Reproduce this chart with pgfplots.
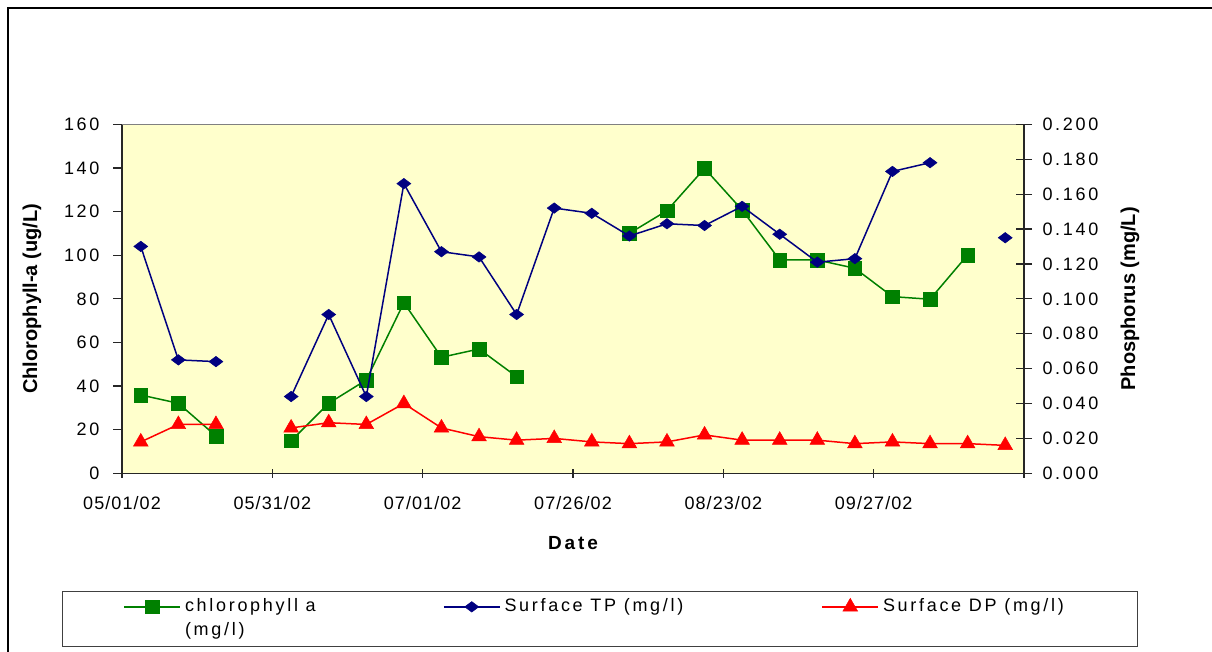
\documentclass[border=0pt]{standalone}
\usepackage{pgfplots}
\pgfplotsset{compat=1.18}
\usepackage{pgfplotstable}
\usepackage{fontspec}
\setmainfont{Liberation Sans}
\newfontfamily\spaced{Liberation Sans}[LetterSpace=15]
\newfontfamily\lessspaced{Liberation Sans}[LetterSpace=6]
\definecolor{chlgreen}{HTML}{008000}
\definecolor{tpblue}{HTML}{000080}
\definecolor{dpred}{HTML}{FF0000}
\definecolor{plotbg}{HTML}{FFFFCC}

\pgfplotstableread{
x     chl    tp     dp
0.5   35.9   0.130  0.018
1.5   32.1   0.065  0.028
2.5   17.1   0.064  0.028
3.5   nan    nan    nan
4.5   14.9   0.044  0.026
5.5   32.1   0.091  0.029
6.5   42.8   0.044  0.028
7.5   78.2   0.166  0.040
8.5   53.2   0.127  0.026
9.5   57.0   0.124  0.021
10.5  44.3   0.091  0.019
11.5  nan    0.152  0.020
12.5  nan    0.149  0.018
13.5  110.0  0.136  0.017
14.5  120.4  0.143  0.018
15.5  139.8  0.142  0.022
16.5  120.7  0.153  0.019
17.5  97.8   0.137  0.019
18.5  97.8   0.121  0.019
19.5  94.0   0.123  0.017
20.5  81.0   0.173  0.018
21.5  79.8   0.178  0.017
22.5  100.1  nan    0.017
23.5  nan    0.135  0.016
}\data

\begin{document}
\begin{tikzpicture}
\useasboundingbox (0,0) rectangle (1212pt,-651pt);
\draw[line width=1.5pt] (8pt,-680pt) -- (8pt,-8pt) -- (1240pt,-8pt);
\begin{axis}[
  at={(122pt,-473.3pt)}, anchor=south west,
  scale only axis, width=902pt, height=349pt,
  xmin=0, xmax=24, ymin=0, ymax=160,
  axis x line*=bottom, axis y line*=left,
  axis background/.style={fill=plotbg},
  axis line style={black!85, line width=1.2pt},
  xtick={0,4,...,24},
  xticklabels={05/01/02,05/31/02,07/01/02,07/26/02,08/23/02,09/27/02,{}},
  ytick={0,20,...,160},
  xtick align=center, ytick align=outside,
  major tick length=9pt,
  tick style={black!85, line width=1.2pt},
  tick label style={font=\fontsize{18}{22}\spaced},
  xticklabel style={yshift=-15pt, font=\fontsize{18}{22}\lessspaced},
  yticklabel style={xshift=-10pt},
  /pgf/number format/assume math mode=true,
  ylabel={Chlorophyll-a (ug/L)},
  ylabel style={at={(axis description cs:-0.0998,0.5)}, anchor=center, font=\fontsize{20}{24}\selectfont\bfseries},
  xlabel={Date},
  xlabel style={at={(axis description cs:0.5,-0.2006)}, anchor=center, font=\fontsize{19}{24}\spaced\bfseries},
  unbounded coords=jump,
  clip=false,
]
\addplot[chlgreen, line width=1.5pt, mark=square*, mark size=6.8pt, mark options={solid, fill=chlgreen, draw=chlgreen, line width=0.5pt}] table[x=x, y=chl] {\data};
\draw[black!50, line width=1.2pt] (rel axis cs:0,1) -- (rel axis cs:1,1);
\end{axis}
\begin{axis}[
  at={(122pt,-473.3pt)}, anchor=south west,
  scale only axis, width=902pt, height=349pt,
  xmin=0, xmax=24, ymin=0, ymax=0.2,
  axis x line=none, axis y line*=right,
  axis line style={black!85, line width=1.2pt},
  ytick={0,0.02,0.04,0.06,0.08,0.1,0.12,0.14,0.16,0.18,0.2},
  yticklabel style={xshift=7pt, /pgf/number format/.cd, fixed, fixed zerofill, precision=3},
  ytick align=center, major tick length=16pt,
  tick style={black!85, line width=1.2pt},
  tick label style={font=\fontsize{18}{22}\spaced},
  /pgf/number format/assume math mode=true,
  ylabel={Phosphorus (mg/L)},
  ylabel style={at={(axis description cs:1.1175,0.5)}, anchor=center, rotate=0, font=\fontsize{20}{24}\selectfont\bfseries},
  unbounded coords=jump,
  clip=false,
  legend columns=3,
  legend style={at={(axis description cs:-0.0665,-0.3381)}, anchor=north west, draw=black!75, line width=1pt,
    inner xsep=40pt, inner ysep=5pt, font=\fontsize{18}{24}\spaced, cells={anchor=base west},
    nodes={inner xsep=4pt, inner ysep=2pt, text depth={}}},
  legend image code/.code={\path (-21pt,0pt); \draw[mark repeat=2,mark phase=2,#1] plot coordinates {(0pt,5pt) (28pt,5pt) (56pt,5pt)};},
]
\addlegendimage{chlgreen, line width=1.5pt, mark=square*, mark size=6.8pt, mark options={solid, fill=chlgreen, draw=chlgreen, line width=0.5pt}}
\addlegendentry{\parbox[t]{233pt}{chlorophyll a\\(mg/l)}}
\addplot[tpblue, line width=1.5pt, mark=diamond*, mark size=7pt, mark options={solid, rotate=90, fill=tpblue, draw=tpblue, line width=0.5pt}] table[x=x, y=tp] {\data};
\addlegendentry{\makebox[292pt][l]{Surface TP (mg/l)}}
\addplot[dpred, line width=1.5pt, mark=triangle*, mark size=8.5pt, mark options={solid, fill=dpred, draw=dpred, line width=0.5pt}] table[x=x, y=dp] {\data};
\addlegendentry{\makebox[210pt][l]{Surface DP (mg/l)}}
\end{axis}
\end{tikzpicture}
\end{document}
